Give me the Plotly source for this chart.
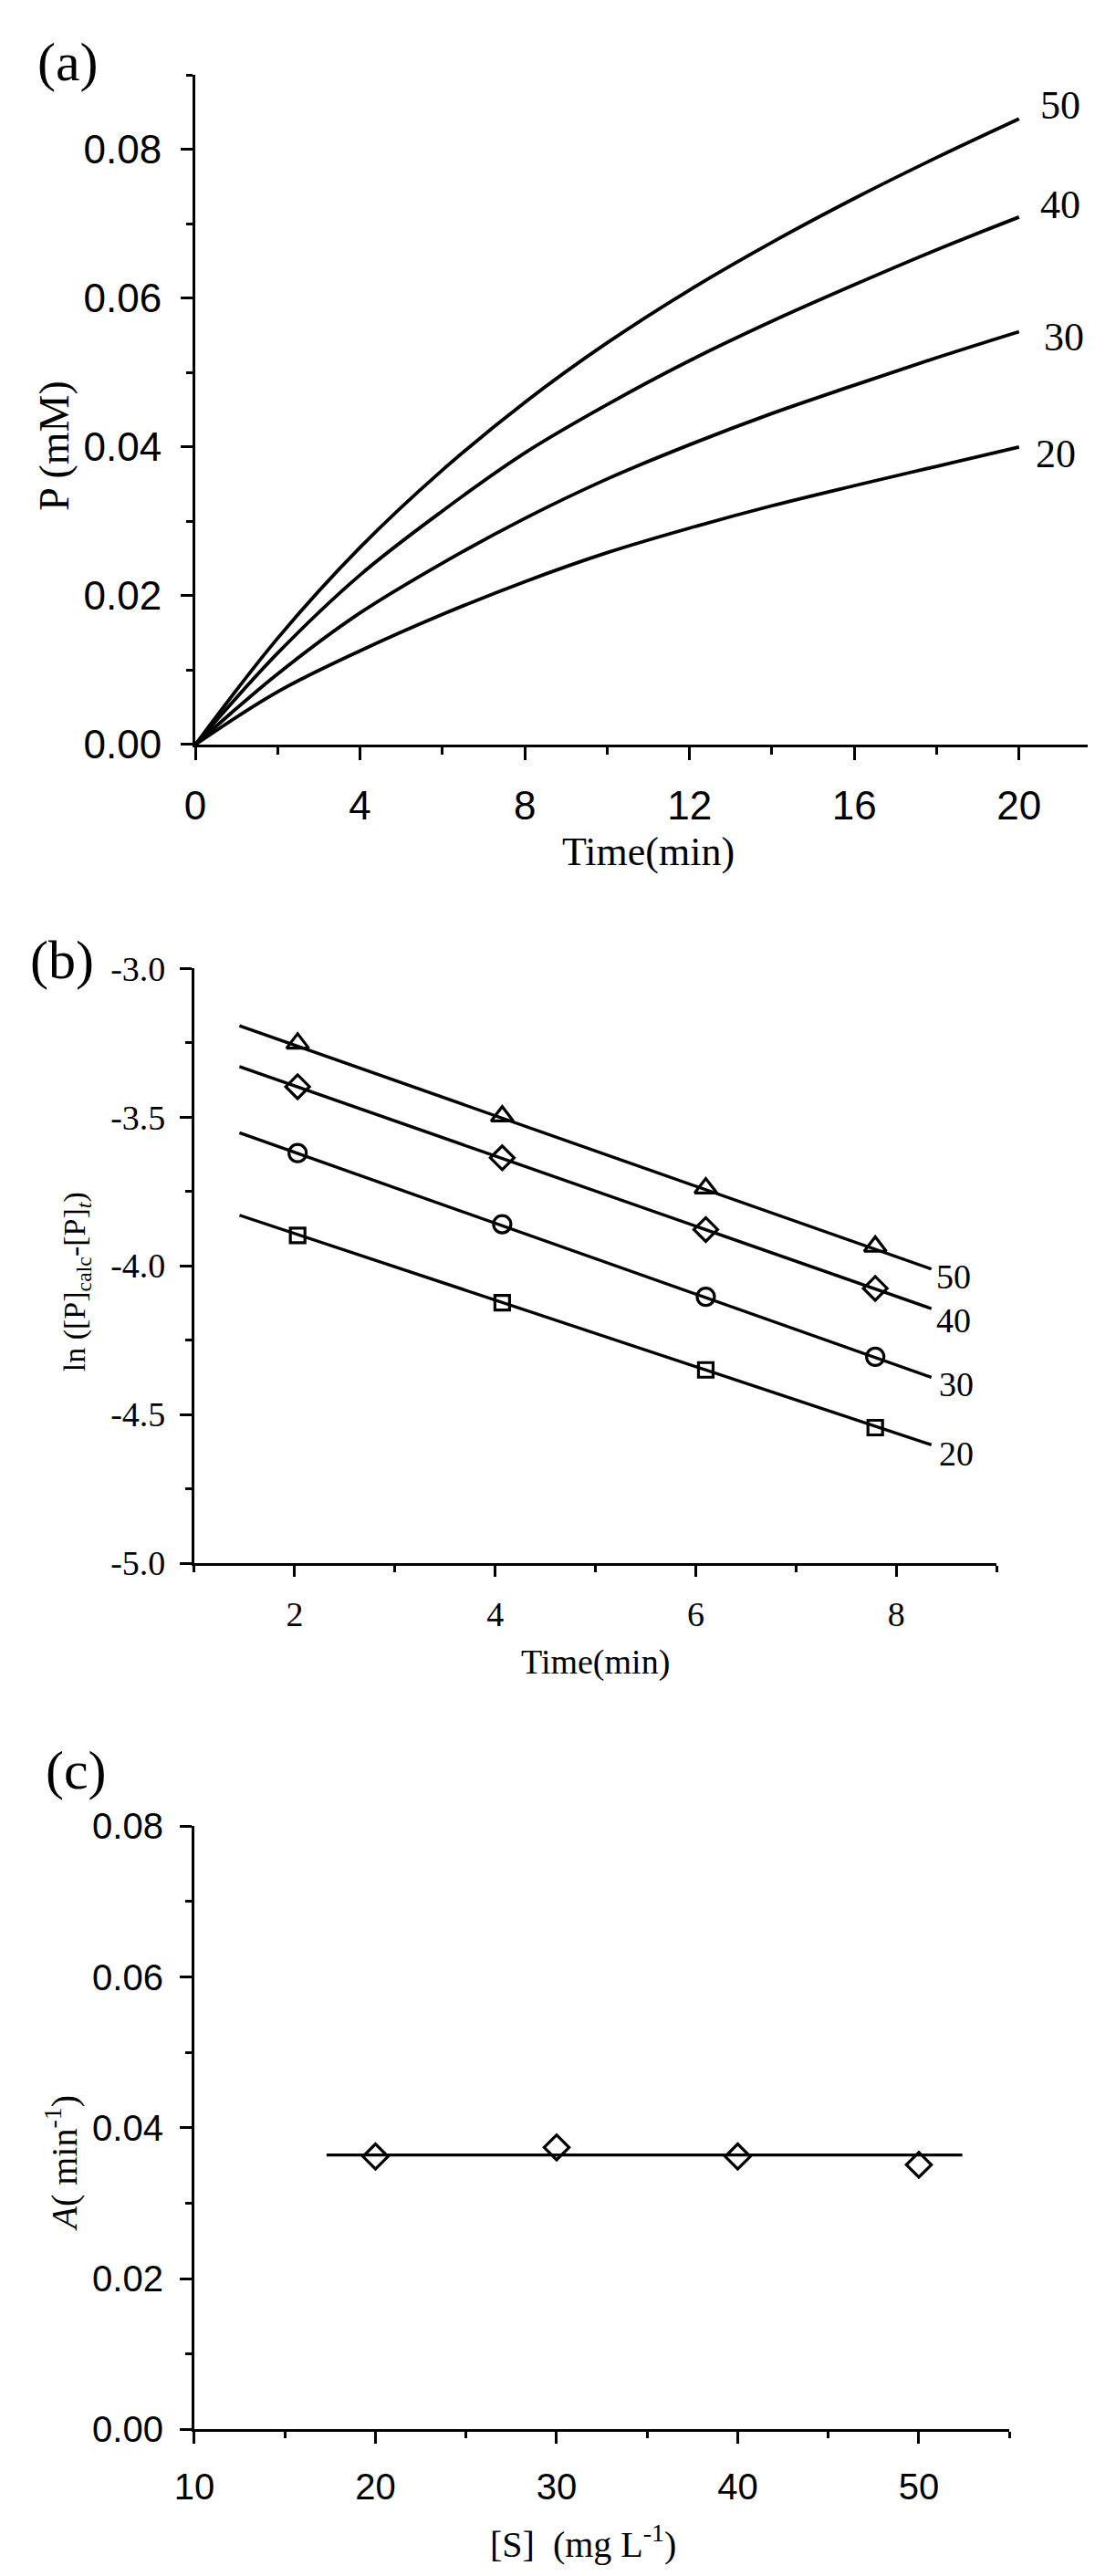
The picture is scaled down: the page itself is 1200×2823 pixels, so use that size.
import plotly.graph_objects as go

W, H = 1200, 2823

# ---------------- Panel (a) data ----------------
time_a = [0, 2, 4, 6, 8, 10, 12, 14, 16, 18, 20]
p_50 = [0, 0.0143, 0.0265, 0.0369, 0.0460, 0.0540, 0.0611, 0.0675, 0.0734, 0.0789, 0.0841]
p_40 = [0, 0.0123, 0.0228, 0.0314, 0.0392, 0.0457, 0.0516, 0.0569, 0.0618, 0.0665, 0.0709]
p_30 = [0, 0.0095, 0.0177, 0.0244, 0.0304, 0.0357, 0.0403, 0.0445, 0.0483, 0.0520, 0.0555]
p_20 = [0, 0.0071, 0.0126, 0.0175, 0.0219, 0.0258, 0.0291, 0.0321, 0.0348, 0.0374, 0.0400]
conc_labels = ["50", "40", "30", "20"]

# ---------------- Panel (b) data ----------------
time_b = [2.03, 4.07, 6.10, 7.79]
ln_50 = [-3.252, -3.497, -3.739, -3.935]
ln_40 = [-3.398, -3.637, -3.878, -4.076]
ln_30 = [-3.621, -3.860, -4.104, -4.306]
ln_20 = [-3.898, -4.124, -4.350, -4.544]
fit_time_b = [1.45, 8.35]
fit_50 = [-3.193, -4.011]
fit_40 = [-3.330, -4.144]
fit_30 = [-3.553, -4.375]
fit_20 = [-3.830, -4.602]
ytick_vals_b = [-3.0, -3.5, -4.0, -4.5, -5.0]
ytick_text_b = ["-3.0", "-3.5", "-4.0", "-4.5", "-5.0"]

# ---------------- Panel (c) data ----------------
s_conc = [20, 30, 40, 50]
a_val = [0.0362, 0.0374, 0.0362, 0.0351]
fit_s = [17.3, 52.4]
fit_a = [0.0364, 0.0364]

# ---------------- styling ----------------
SERIF = "Liberation Serif, Times New Roman, serif"
SANS = "Liberation Sans, Arial, sans-serif"
BLACK = "black"
LW = 3


def px_x(px):
    return px / W


def px_y(py):
    return 1 - py / H


def axis(rng, dtick, mdtick, font, size, standoff, fmt=None, domain=None, anchor=None,
         ticklen=13, mlen=7, tickvals=None, ticktext=None):
    d = dict(
        range=rng, domain=domain, anchor=anchor,
        showline=True, linecolor=BLACK, linewidth=LW,
        ticks="outside", ticklen=ticklen, tickwidth=LW, tickcolor=BLACK,
        minor=dict(ticks="outside", ticklen=mlen, tickwidth=LW, tickcolor=BLACK,
                   tickmode="linear", tick0=0, dtick=mdtick, showgrid=False),
        showgrid=False, zeroline=False,
        tickfont=dict(family=font, size=size, color=BLACK),
        ticklabelstandoff=standoff,
    )
    if tickvals is not None:
        d.update(tickmode="array", tickvals=tickvals, ticktext=ticktext)
    else:
        d.update(tickmode="linear", tick0=0, dtick=dtick)
    if fmt:
        d["tickformat"] = fmt
    return d


fig = go.Figure()

# Panel (a) curves
for ys in [p_50, p_40, p_30, p_20]:
    fig.add_trace(go.Scatter(x=time_a, y=ys, mode="lines",
                             line=dict(color=BLACK, width=3.8, shape="spline", smoothing=1.0),
                             xaxis="x", yaxis="y", showlegend=False, hoverinfo="skip"))

# Panel (b) fit lines and markers
symbols_b = ["triangle-up-open", "diamond-open", "circle-open", "square-open"]
sizes_b = [21, 20, 19, 16]
for fy, my, sym, sz in zip([fit_50, fit_40, fit_30, fit_20],
                           [ln_50, ln_40, ln_30, ln_20], symbols_b, sizes_b):
    fig.add_trace(go.Scatter(x=fit_time_b, y=fy, mode="lines",
                             line=dict(color=BLACK, width=3.4),
                             xaxis="x2", yaxis="y2", showlegend=False, hoverinfo="skip"))
    fig.add_trace(go.Scatter(x=time_b, y=my, mode="markers",
                             marker=dict(symbol=sym, size=sz, color=BLACK,
                                         line=dict(color=BLACK, width=3.2)),
                             xaxis="x2", yaxis="y2", showlegend=False, hoverinfo="skip"))

# Panel (c)
fig.add_trace(go.Scatter(x=fit_s, y=fit_a, mode="lines", line=dict(color=BLACK, width=3.4),
                         xaxis="x3", yaxis="y3", showlegend=False, hoverinfo="skip"))
fig.add_trace(go.Scatter(x=s_conc, y=a_val, mode="markers",
                         marker=dict(symbol="diamond-open", size=21, color=BLACK,
                                     line=dict(color=BLACK, width=3.2)),
                         xaxis="x3", yaxis="y3", showlegend=False, hoverinfo="skip"))

dom_a_x = [px_x(187.5), px_x(1199)]
dom_a_y = [px_y(799), px_y(53)]
dom_b_x = [px_x(186.4), px_x(1082)]
dom_b_y = [px_y(1711), px_y(1048.3)]
dom_c_x = [px_x(186.4), px_x(1096.3)]
dom_c_y = [px_y(2676), px_y(2004)]

fig.update_layout(
    width=W, height=H,
    margin=dict(l=0, r=0, t=0, b=0),
    paper_bgcolor="white", plot_bgcolor="white",
    showlegend=False,
    xaxis=axis([0, 22], 4, 2, SANS, 44, 12, domain=dom_a_x, anchor="y", ticklen=14, mlen=8),
    yaxis=axis([0, 0.09], 0.02, 0.01, SANS, 44, 12, fmt=".2f", domain=dom_a_y, anchor="x"),
    xaxis2=axis([1, 9], 2, 1, SERIF, 38, 8, domain=dom_b_x, anchor="y2", ticklen=12),
    yaxis2=axis([-5, -3], 0.5, 0.25, SERIF, 38, 8, domain=dom_b_y, anchor="x2",
                tickvals=ytick_vals_b, ticktext=ytick_text_b),
    xaxis3=axis([10, 55], 10, 5, SANS, 40, 13, domain=dom_c_x, anchor="y3"),
    yaxis3=axis([0, 0.08], 0.02, 0.01, SANS, 40, 10, fmt=".2f", domain=dom_c_y, anchor="x3"),
)

ann = []


def paper_text(text, px, py, size, angle=0, font=SERIF):
    ann.append(dict(text=text, x=px_x(px), y=px_y(py), xref="paper", yref="paper",
                    xanchor="center", yanchor="middle", showarrow=False, textangle=angle,
                    font=dict(family=font, size=size, color=BLACK)))


# panel letters
paper_text("(a)", 45, 39, 60)
paper_text("(b)", 39, 1039, 60)
paper_text("(c)", 55, 1942, 60)

# axis titles
paper_text("P (mM)", 30, 466, 46, angle=-90)
paper_text("Time(min)", 693, 918, 44)
paper_text("ln ([P]<sub>calc</sub>-[P]<sub><i>t</i></sub>)", 55, 1397, 34, angle=-90)
paper_text("Time(min)", 634, 1821, 38)
paper_text("<i>A</i>( min<sup>-1</sup>)", 38, 2379, 40, angle=-90)
paper_text("[S]\u00a0\u00a0(mg L<sup>-1</sup>)", 620, 2801, 40)

# curve labels (a)
label_pos_a = [(21.0, 0.0859), (21.0, 0.0725), (21.1, 0.0548), (20.9, 0.0390)]
for lab, (lx, ly) in zip(conc_labels, label_pos_a):
    ann.append(dict(text=lab, x=lx, y=ly, xref="x", yref="y", showarrow=False,
                    xanchor="center", yanchor="middle",
                    font=dict(family=SERIF, size=44, color=BLACK)))

# curve labels (b)
label_pos_b = [(8.57, -4.036), (8.57, -4.184), (8.60, -4.399), (8.60, -4.632)]
for lab, (lx, ly) in zip(conc_labels, label_pos_b):
    ann.append(dict(text=lab, x=lx, y=ly, xref="x2", yref="y2", showarrow=False,
                    xanchor="center", yanchor="middle",
                    font=dict(family=SERIF, size=38, color=BLACK)))

fig.update_layout(annotations=ann)

fig.write_html("out.html")
